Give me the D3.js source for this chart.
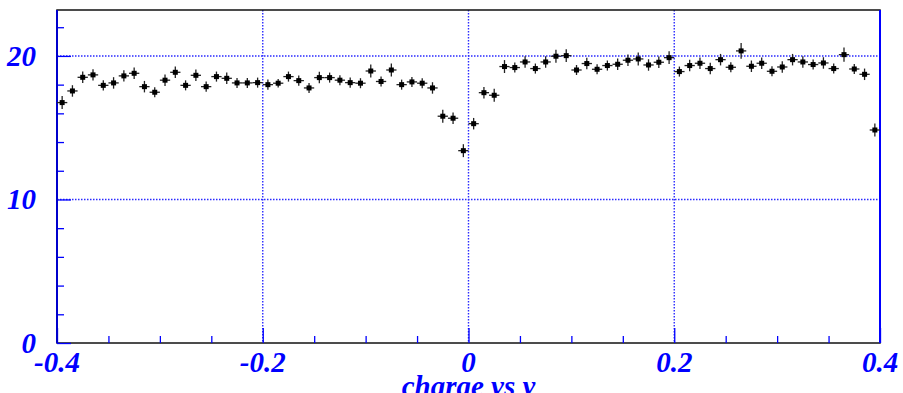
<!DOCTYPE html>
<meta charset='utf-8'>
<head>
  <title>charge vs y</title>
</head>

<style>
body {
  margin: 0;
  background: white;
}

.tick-label, .title {
  font-family: "Liberation Serif", "Times New Roman", serif;
  font-weight: bold;
  font-style: italic;
  font-size: 29px;
  fill: #0000ff;
}

.grid line {
  stroke: #2a2aff;
  stroke-width: 1.4;
  stroke-dasharray: 1.5,1.5;
}

.axis path {
  display: none;
}

.axis line {
  stroke: #0000ff;
  stroke-width: 1.3;
}

.frame {
  fill: none;
  stroke: #111;
  stroke-width: 1.5;
}

.errbar {
  stroke: #222;
  stroke-width: 1.3;
}

.marker {
  fill: #000;
}
</style>

<body>
  <svg width='903' height='393'></svg>

  <script src='https://cdn.jsdelivr.net/npm/d3@7'></script>
  <script>
// histogram binning: 80 bins from -0.4 to 0.4
var xLow = -0.4, xHigh = 0.4, nBins = 80;

// bin contents
var counts = [
  16.75, 17.56, 18.51, 18.68, 17.95, 18.12, 18.61, 18.79, 17.86, 17.47,
  18.31, 18.86, 17.95, 18.65, 17.86, 18.56, 18.44, 18.12, 18.12, 18.14,
  18.00, 18.10, 18.56, 18.28, 17.77, 18.49, 18.49, 18.31, 18.14, 18.10,
  18.95, 18.22, 19.02, 18.00, 18.19, 18.10, 17.77, 15.80, 15.66, 13.40,
  15.28, 17.44, 17.26, 19.26, 19.19, 19.58, 19.12, 19.58, 19.98, 20.02,
  19.02, 19.47, 19.07, 19.33, 19.42, 19.70, 19.79, 19.37, 19.56, 19.88,
  18.91, 19.33, 19.49, 19.12, 19.74, 19.21, 20.35, 19.28, 19.49, 18.93,
  19.23, 19.74, 19.58, 19.40, 19.51, 19.12, 20.09, 19.09, 18.72, 14.84
];

var errors = [
  0.45, 0.40, 0.40, 0.40, 0.35, 0.40, 0.40, 0.40, 0.40, 0.35,
  0.40, 0.40, 0.35, 0.40, 0.35, 0.35, 0.40, 0.35, 0.35, 0.35,
  0.35, 0.30, 0.35, 0.35, 0.35, 0.40, 0.35, 0.35, 0.35, 0.35,
  0.45, 0.35, 0.45, 0.35, 0.35, 0.35, 0.40, 0.45, 0.40, 0.45,
  0.40, 0.40, 0.45, 0.45, 0.35, 0.40, 0.35, 0.40, 0.45, 0.45,
  0.35, 0.40, 0.35, 0.35, 0.40, 0.40, 0.45, 0.40, 0.40, 0.45,
  0.35, 0.40, 0.40, 0.40, 0.40, 0.35, 0.55, 0.40, 0.40, 0.35,
  0.40, 0.40, 0.40, 0.35, 0.40, 0.35, 0.50, 0.35, 0.40, 0.45
];

var xMajor = [-0.4, -0.2, 0, 0.2, 0.4];
var xMinor = [-0.35, -0.3, -0.25, -0.15, -0.1, -0.05, 0.05, 0.1, 0.15, 0.25, 0.3, 0.35];
var yMajor = [0, 10, 20];
var yMinor = [2, 4, 6, 8, 12, 14, 16, 18, 22];
var xGrid = [-0.2, 0, 0.2];
var yGrid = [10, 20];
var title = 'charge vs y';

var padL = 57, padR = 880, padT = 10, padB = 343;
var binWidth = (xHigh - xLow) / nBins;

var x = d3.scaleLinear().domain([xLow, xHigh]).range([padL, padR]);
var y = d3.scaleLinear().domain([0, 23.2]).range([padB, padT]);

var svg = d3.select('svg');

var points = counts.map(function(c, i) {
  return {
    x: xLow + (i + 0.5) * binWidth,
    lo: xLow + i * binWidth,
    hi: xLow + (i + 1) * binWidth,
    v: c,
    e: errors[i]
  };
});

// grid
var grid = svg.append('g').attr('class', 'grid');
grid.selectAll('line.gx')
  .data(xGrid)
  .enter().append('line')
  .attr('class', 'gx')
  .attr('x1', function(d) { return x(d); })
  .attr('x2', function(d) { return x(d); })
  .attr('y1', padT)
  .attr('y2', padB);
grid.selectAll('line.gy')
  .data(yGrid)
  .enter().append('line')
  .attr('class', 'gy')
  .attr('x1', padL)
  .attr('x2', padR)
  .attr('y1', function(d) { return y(d); })
  .attr('y2', function(d) { return y(d); });

// frame
svg.append('rect')
  .attr('class', 'frame')
  .attr('x', padL)
  .attr('y', padT)
  .attr('width', padR - padL)
  .attr('height', padB - padT);

// ticks
svg.append('g').attr('class', 'axis')
  .attr('transform', 'translate(0,' + padB + ')')
  .call(d3.axisBottom(x).tickValues(xMajor).tickSize(-15).tickFormat(''));
svg.append('g').attr('class', 'axis')
  .attr('transform', 'translate(0,' + padB + ')')
  .call(d3.axisBottom(x).tickValues(xMinor).tickSize(-7).tickFormat(''));
svg.append('g').attr('class', 'axis')
  .attr('transform', 'translate(' + padL + ',0)')
  .call(d3.axisLeft(y).tickValues(yMajor).tickSize(-14).tickFormat(''));
svg.append('g').attr('class', 'axis')
  .attr('transform', 'translate(' + padL + ',0)')
  .call(d3.axisLeft(y).tickValues(yMinor).tickSize(-7).tickFormat(''));

// blue axis lines on left and right
svg.append('line')
  .attr('x1', padL).attr('x2', padL)
  .attr('y1', padT).attr('y2', padB)
  .attr('stroke', '#0000cc').attr('stroke-width', 2);
svg.append('line')
  .attr('x1', padR).attr('x2', padR)
  .attr('y1', padT).attr('y2', padB)
  .attr('stroke', '#0000ff').attr('stroke-width', 2);

// tick labels
svg.selectAll('text.xl')
  .data(xMajor)
  .enter().append('text')
  .attr('class', 'tick-label xl')
  .attr('x', function(d) { return x(d); })
  .attr('y', padB + 29)
  .attr('text-anchor', 'middle')
  .text(function(d) { return d === 0 ? '0' : d.toFixed(1); });

svg.selectAll('text.yl')
  .data(yMajor)
  .enter().append('text')
  .attr('class', 'tick-label yl')
  .attr('x', 36)
  .attr('y', function(d) { return y(d) + 10; })
  .attr('text-anchor', 'end')
  .text(function(d) { return d; });

svg.append('text')
  .attr('class', 'title')
  .attr('x', x(0))
  .attr('y', 396)
  .attr('text-anchor', 'middle')
  .text(title);

// data points with error bars
var pts = svg.append('g').selectAll('g')
  .data(points)
  .enter().append('g');

pts.append('line')
  .attr('class', 'errbar')
  .attr('x1', function(d) { return x(d.lo); })
  .attr('x2', function(d) { return x(d.hi); })
  .attr('y1', function(d) { return y(d.v); })
  .attr('y2', function(d) { return y(d.v); });

pts.append('line')
  .attr('class', 'errbar')
  .attr('x1', function(d) { return x(d.x); })
  .attr('x2', function(d) { return x(d.x); })
  .attr('y1', function(d) { return y(d.v - d.e); })
  .attr('y2', function(d) { return y(d.v + d.e); });

pts.append('rect')
  .attr('class', 'marker')
  .attr('x', function(d) { return x(d.x) - 2.5; })
  .attr('y', function(d) { return y(d.v) - 2.5; })
  .attr('width', 5)
  .attr('height', 5);
  </script>
</body>
</html>
